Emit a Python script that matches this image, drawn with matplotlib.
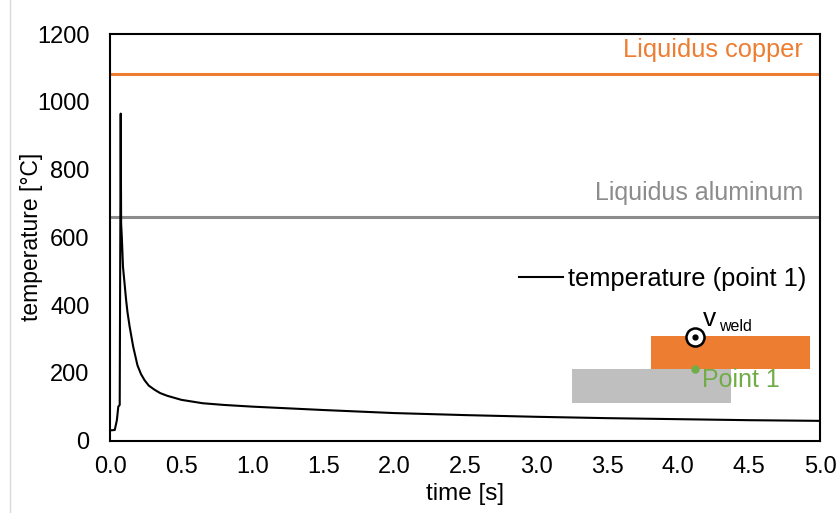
import matplotlib
matplotlib.use('Agg')
import matplotlib.pyplot as plt
from matplotlib.patches import Rectangle
from matplotlib.lines import Line2D

plt.rcParams['font.family'] = ['Liberation Sans', 'DejaVu Sans']

# temperature at point 1
time_s = [0.0, 0.03, 0.045, 0.055, 0.065, 0.072, 0.075, 0.08, 0.088, 0.1, 0.11, 0.12,
          0.135, 0.16, 0.19, 0.215, 0.24, 0.27, 0.31, 0.35, 0.4, 0.5, 0.65, 0.8, 1.0,
          1.25, 1.5, 2.0, 2.5, 3.0, 3.5, 4.0, 4.5, 5.0]
temp_c = [30, 31, 60, 100, 105, 965, 640, 600, 513, 460, 415, 378,
          336, 277, 222, 196, 178, 162, 150, 140, 132, 120, 110, 105, 100,
          95, 90, 81, 75, 70, 66, 63, 60, 58]

liquidus_cu = 1083
liquidus_al = 660

xticks = [0.0, 0.5, 1.0, 1.5, 2.0, 2.5, 3.0, 3.5, 4.0, 4.5, 5.0]
yticks = [0, 200, 400, 600, 800, 1000, 1200]

# schematic of the weld (in data units)
cu_sheet = (3.81, 210, 1.12, 98)   # x, y, width, height
al_sheet = (3.25, 110, 1.12, 100)
weld_dir = (4.117, 307)
point1 = (4.117, 210)

orange = '#ED7D31'
grey_line = '#8C8C8C'
grey_sheet = '#BFBFBF'
green = '#70AD47'
fs = 18

fig = plt.figure(figsize=(8.37, 5.13), dpi=100)
ax = fig.add_axes([0.132, 0.1413, 0.848, 0.7924])

ax.axhline(liquidus_cu, color=orange, lw=2.2, zorder=2)
ax.axhline(liquidus_al, color=grey_line, lw=2.2, zorder=2)
ax.plot(time_s, temp_c, color='black', lw=1.5, label='temperature (point 1)', zorder=3)

ax.text(4.88, 1152, 'Liquidus copper', color=orange, fontsize=18.3, ha='right', va='center')
ax.text(4.88, 730, 'Liquidus aluminum', color=grey_line, fontsize=fs, ha='right', va='center')

ax.add_patch(Rectangle(cu_sheet[:2], cu_sheet[2], cu_sheet[3], color=orange, lw=0, zorder=2))
ax.add_patch(Rectangle(al_sheet[:2], al_sheet[2], al_sheet[3], color=grey_sheet, lw=0, zorder=2))
ax.plot(*weld_dir, marker='o', ms=13, mfc='white', mec='black', mew=1.8, zorder=5)
ax.plot(*weld_dir, marker='o', ms=3.5, color='black', zorder=6)
ax.text(4.17, 360, 'v', fontsize=fs + 1, ha='left', va='center', zorder=6)
ax.text(4.285, 337, 'weld', fontsize=11.5, ha='left', va='center', zorder=6)
ax.plot(*point1, marker='o', ms=5, color=green, zorder=5)
ax.text(4.17, 178, 'Point 1', color=green, fontsize=fs, ha='left', va='center', zorder=6)

ax.set_xlim(0, 5)
ax.set_ylim(0, 1200)
ax.set_xticks(xticks)
ax.set_xticklabels(['%.1f' % v for v in xticks])
ax.set_yticks(yticks)
ax.tick_params(length=0, labelsize=17)
ax.tick_params(axis='x', pad=11)
ax.tick_params(axis='y', pad=15)
for s in ax.spines.values():
    s.set_linewidth(1.5)
    s.set_color('black')

ax.set_xlabel('time [s]', fontsize=17.5, labelpad=4)
ax.set_ylabel('temperature [°C]', fontsize=16.5, labelpad=-4)

ax.legend(loc='center right', bbox_to_anchor=(0.981, 0.397), frameon=False, fontsize=18.4,
          handlelength=1.75, handletextpad=0.2, borderpad=0, borderaxespad=0)

fig.add_artist(Line2D([0.012, 0.012], [0, 1], color='#D9D9D9', lw=1))

fig.savefig('out.png', dpi=100)
